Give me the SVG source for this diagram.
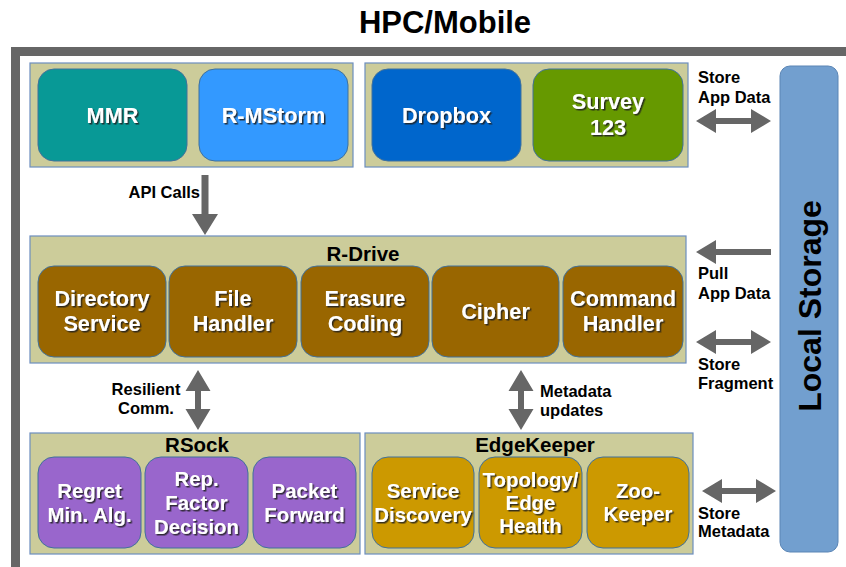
<svg xmlns="http://www.w3.org/2000/svg" width="846" height="567" viewBox="0 0 846 567">
<defs>
<filter id="sh" x="-10%" y="-10%" width="130%" height="140%"><feDropShadow dx="1.5" dy="1.5" stdDeviation="0.3" flood-color="#1a1a1a" flood-opacity="0.85"/></filter>
</defs>
<style>
text{font-family:"Liberation Sans",Arial,sans-serif;font-weight:bold}
.grp{fill:#CCCC9A;stroke:#6C8EBF;stroke-width:1.2}
.node{stroke:#41719C;stroke-width:1}
.nt{fill:#fff;font-size:21.7px;text-anchor:middle;filter:url(#sh)}
.nt2{fill:#fff;font-size:20.4px;text-anchor:middle;filter:url(#sh)}
.gt{fill:#000;font-size:20.5px;text-anchor:middle}
.lbl{fill:#000;font-size:16.5px}
.arr{fill:#666}
</style>
<rect width="846" height="567" fill="#fff"/>
<text x="445" y="33" font-size="31" text-anchor="middle" fill="#000">HPC/Mobile</text>
<rect id="frame" x="15.5" y="51.5" width="860" height="520" fill="#fff" stroke="#666" stroke-width="9"/>

<g id="apps1">
<rect class="grp" x="30" y="63" width="323" height="104"/>
<g id="mmr"><rect class="node" x="38" y="69" width="149" height="92" rx="16" fill="#089996"/><text class="nt" x="112.5" y="123">MMR</text></g>
<g id="rmstorm"><rect class="node" x="199" y="69" width="149" height="92" rx="16" fill="#3399FF"/><text class="nt" x="273.5" y="123">R-MStorm</text></g>
</g>
<g id="apps2">
<rect class="grp" x="365" y="63" width="323" height="104"/>
<g id="dropbox"><rect class="node" x="372" y="69" width="149" height="92" rx="16" fill="#0066CC"/><text class="nt" x="446.5" y="123">Dropbox</text></g>
<g id="survey"><rect class="node" x="533" y="69" width="150" height="92" rx="16" fill="#669900"/><text class="nt" x="608" y="109">Survey</text><text class="nt" x="608" y="135">123</text></g>
</g>

<g id="rdrive">
<rect class="grp" x="30" y="236" width="656" height="127"/>
<text class="gt" x="363" y="261">R-Drive</text>
<g id="directory"><rect class="node" x="38" y="266" width="128" height="91" rx="16" fill="#996600"/><text class="nt" x="102" y="306">Directory</text><text class="nt" x="102" y="331">Service</text></g>
<g id="filehandler"><rect class="node" x="169" y="266" width="128" height="91" rx="16" fill="#996600"/><text class="nt" x="233" y="306">File</text><text class="nt" x="233" y="331">Handler</text></g>
<g id="erasure"><rect class="node" x="301" y="266" width="128" height="91" rx="16" fill="#996600"/><text class="nt" x="365" y="306">Erasure</text><text class="nt" x="365" y="331">Coding</text></g>
<g id="cipher"><rect class="node" x="432" y="266" width="127" height="91" rx="16" fill="#996600"/><text class="nt" x="495.5" y="319">Cipher</text></g>
<g id="command"><rect class="node" x="563" y="266" width="120" height="91" rx="16" fill="#996600"/><text class="nt" x="623" y="306">Command</text><text class="nt" x="623" y="331">Handler</text></g>
</g>

<g id="rsock">
<rect class="grp" x="30" y="433" width="330" height="121"/>
<text class="gt" x="197" y="452">RSock</text>
<g id="regret"><rect class="node" x="38" y="457" width="103" height="91" rx="16" fill="#9966CC"/><text class="nt2" x="89.5" y="498">Regret</text><text class="nt2" x="89.5" y="522">Min. Alg.</text></g>
<g id="repfactor"><rect class="node" x="145" y="457" width="103" height="91" rx="16" fill="#9966CC"/><text class="nt2" x="196.5" y="486">Rep.</text><text class="nt2" x="196.5" y="510">Factor</text><text class="nt2" x="196.5" y="534">Decision</text></g>
<g id="packet"><rect class="node" x="253" y="457" width="103" height="91" rx="16" fill="#9966CC"/><text class="nt2" x="304.5" y="498">Packet</text><text class="nt2" x="304.5" y="522">Forward</text></g>
</g>

<g id="edgekeeper">
<rect class="grp" x="365" y="433" width="328" height="121"/>
<text class="gt" x="535" y="452">EdgeKeeper</text>
<g id="servdisc"><rect class="node" x="372" y="457" width="102" height="91" rx="16" fill="#CC9900"/><text class="nt2" x="423" y="498">Service</text><text class="nt2" x="423" y="522">Discovery</text></g>
<g id="topology"><rect class="node" x="479" y="457" width="103" height="91" rx="16" fill="#CC9900"/><text class="nt2" x="530.5" y="487" font-size="19.3">Topology/</text><text class="nt2" x="530.5" y="510">Edge</text><text class="nt2" x="530.5" y="533">Health</text></g>
<g id="zookeeper"><rect class="node" x="587" y="457" width="102" height="91" rx="16" fill="#CC9900"/><text class="nt2" x="638" y="498">Zoo-</text><text class="nt2" x="638" y="521">Keeper</text></g>
</g>

<g id="localstorage">
<rect x="780" y="66" width="58" height="486" rx="10" fill="#729FCF" stroke="#5A85B5" stroke-width="1"/>
<text x="0" y="0" font-size="32" text-anchor="middle" fill="#000" transform="translate(821 306) rotate(-90)">Local Storage</text>
</g>

<g id="connectors">
<polygon class="arr" points="201.5,175 208.5,175 208.5,214 218,214 205,235 192,214 201.5,214"/>
<text class="lbl" x="200" y="198" text-anchor="end">API Calls</text>

<polygon class="arr" points="198,370 210.5,391 201,391 201,409 210.5,409 198,430 185.5,409 195,409 195,391 185.5,391"/>
<text class="lbl" x="146" y="395" text-anchor="middle">Resilient</text>
<text class="lbl" x="146" y="414" text-anchor="middle">Comm.</text>

<polygon class="arr" points="521,370 533.5,391 524,391 524,409 533.5,409 521,430 508.5,409 518,409 518,391 508.5,391"/>
<text class="lbl" x="540" y="397">Metadata</text>
<text class="lbl" x="540" y="416">updates</text>

<polygon class="arr" points="696,121 716,109 716,118 751,118 751,109 771,121 751,133 751,124 716,124 716,133"/>
<text class="lbl" x="698" y="83">Store</text>
<text class="lbl" x="698" y="103">App Data</text>

<polygon class="arr" points="696,252 716,240 716,249 771,249 771,255 716,255 716,264"/>
<text class="lbl" x="698" y="279">Pull</text>
<text class="lbl" x="698" y="299">App Data</text>

<polygon class="arr" points="696,342 716,330 716,339 751,339 751,330 771,342 751,354 751,345 716,345 716,354"/>
<text class="lbl" x="698" y="370">Store</text>
<text class="lbl" x="698" y="389">Fragment</text>

<polygon class="arr" points="702,491 722,479 722,488 756,488 756,479 776,491 756,503 756,494 722,494 722,503"/>
<text class="lbl" x="698" y="519">Store</text>
<text class="lbl" x="698" y="537">Metadata</text>
</g>
</svg>
